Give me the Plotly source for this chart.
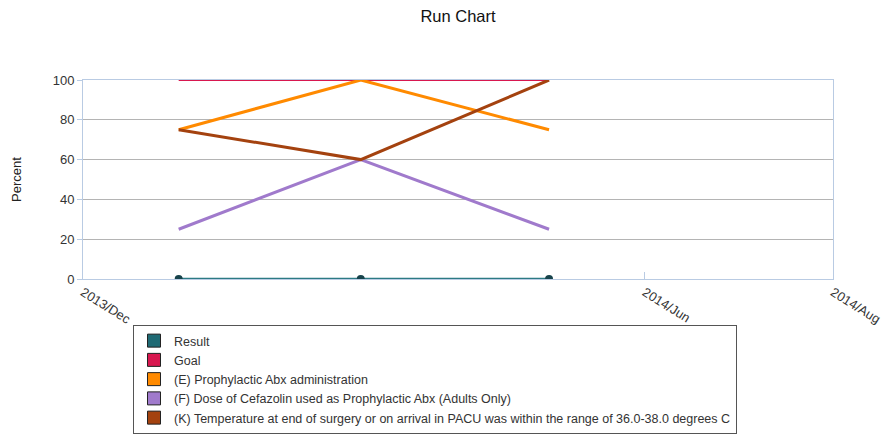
import plotly.graph_objects as go

dates = ["2014-01-01", "2014-03-01", "2014-05-01"]
series_names = [
    "Result",
    "Goal",
    "(E) Prophylactic Abx administration",
    "(F) Dose of Cefazolin used as Prophylactic Abx (Adults Only)",
    "(K) Temperature at end of surgery or on arrival in PACU was within the range of 36.0-38.0 degrees C",
]
result_vals = [0, 0, 0]
goal_vals = [100, 100, 100]
e_vals = [75, 100, 75]
f_vals = [25, 60, 25]
k_vals = [75, 60, 100]

tick_vals = ["2013-12-01", "2014-06-01", "2014-08-01"]
tick_text = ["2013/Dec", "2014/Jun", "2014/Aug"]
y_ticks = [0, 20, 40, 60, 80, 100]

colors = ["#2c7a84", "#d8174f", "#ff8a00", "#a07acc", "#a4420f"]
legend_colors = ["#1f6a74", "#d8174f", "#ff8a00", "#a07acc", "#a4420f"]
widths = [2.5, 2, 3, 3, 3]
values = [result_vals, goal_vals, e_vals, f_vals, k_vals]

fig = go.Figure()
draw_order = [1, 2, 3, 4, 0]
for i in draw_order:
    fig.add_trace(go.Scatter(
        x=dates, y=values[i], mode="lines+markers" if i == 0 else "lines",
        line=dict(color=colors[i], width=widths[i]),
        marker=dict(color="#17434b", size=8) if i == 0 else None,
        showlegend=False, hoverinfo="x+y", name=series_names[i],
    ))
for i in range(5):
    fig.add_trace(go.Scatter(
        x=[None], y=[None], mode="markers", name=series_names[i],
        marker=dict(symbol="square", size=13, color=legend_colors[i],
                    line=dict(color="#222222", width=1)),
        showlegend=True,
    ))

axis_blue = "#b9cbe3"
fig.update_layout(
    width=889, height=435,
    margin=dict(l=83, r=56, t=80, b=156, autoexpand=False),
    paper_bgcolor="white", plot_bgcolor="white",
    font=dict(family="Liberation Sans, Arial, sans-serif", color="#333333", size=13),
    title=dict(text="Run Chart", x=0.5, xanchor="center", xref="paper",
               y=1 - 16 / 435, yanchor="middle", yref="container",
               font=dict(size=16.5, color="#111111")),
    xaxis=dict(
        type="date", range=["2013-12-01", "2014-08-01"],
        tickvals=tick_vals, ticktext=tick_text, tickangle=32,
        showgrid=False, zeroline=False,
        showline=True, linecolor=axis_blue, linewidth=1, mirror=True,
        ticks="inside", ticklen=7, tickcolor=axis_blue,
        tickfont=dict(size=13, color="#333333"),
    ),
    yaxis=dict(
        range=[0, 100], tickvals=y_ticks,
        showgrid=True, gridcolor="#b4b4b4", gridwidth=1, zeroline=False,
        showline=True, linecolor=axis_blue, linewidth=1, mirror=True,
        ticks="outside", ticklen=5, tickcolor=axis_blue,
        tickfont=dict(size=13, color="#333333"),
        title=dict(text="Percent", font=dict(size=13, color="#222222"), standoff=28),
    ),
    legend=dict(
        x=(133 - 83) / 750, xanchor="left", y=(279 - 325) / 199, yanchor="top",
        bordercolor="#555555", borderwidth=1, bgcolor="rgba(255,255,255,0)",
        font=dict(size=12.5, color="#333333"),
        itemsizing="trace", tracegroupgap=0,
    ),
)

fig.write_html("out.html", config={"displayModeBar": False},
               post_script="document.body.style.margin='0';")
